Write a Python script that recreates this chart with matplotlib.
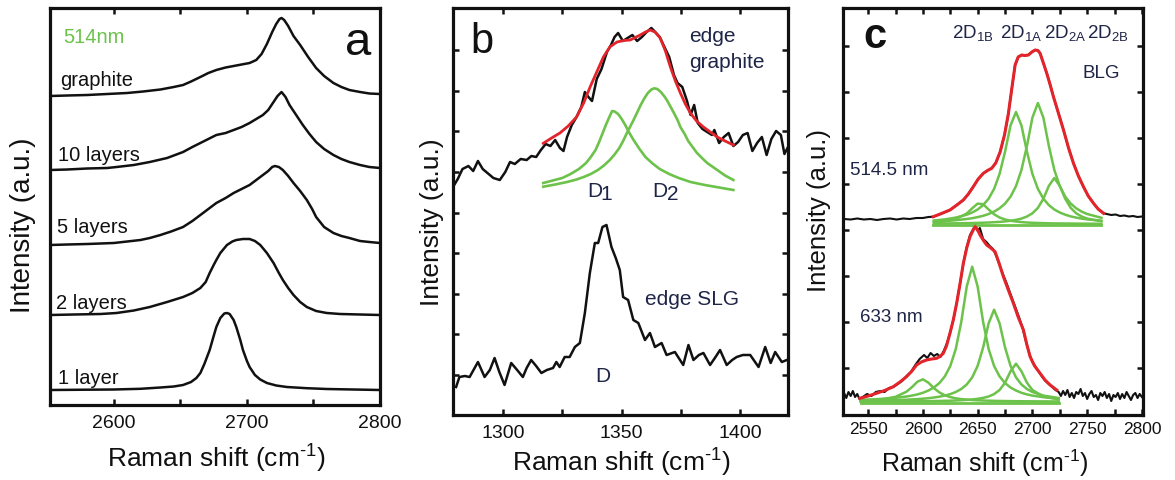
import matplotlib
matplotlib.use('Agg')
import matplotlib.pyplot as plt

plt.rcParams['font.family'] = ['Liberation Sans', 'DejaVu Sans']
plt.rcParams['mathtext.fontset'] = 'custom'
plt.rcParams['mathtext.rm'] = 'Liberation Sans'
plt.rcParams['mathtext.it'] = 'Liberation Sans:italic'
plt.rcParams['mathtext.bf'] = 'Liberation Sans:bold'

# ---------------- panel a: 2D band vs number of layers (514 nm) ----------------
a_graphite_x = [2552, 2565, 2580, 2595, 2610, 2622, 2635, 2645, 2652, 2658, 2665, 2671, 2677, 2684,
                2690, 2696, 2702, 2707, 2711, 2715, 2719, 2722, 2724.5, 2726, 2728, 2731, 2735, 2740,
                2746, 2752, 2758, 2765, 2771, 2777, 2785, 2792, 2800]
a_graphite_y = [0, 0.5, 1, 2, 3, 4.5, 6.5, 9, 11, 14.5, 19, 23, 26, 28.5,
                30, 31.5, 33, 36, 42, 52, 64, 72, 77, 78, 76, 70, 60, 51,
                39, 28, 20, 13, 9, 6, 4, 2.5, 2]
a_10l_x = [2552, 2565, 2580, 2595, 2602, 2615, 2627, 2640, 2652, 2659, 2665, 2671, 2677, 2684, 2690,
           2696, 2702, 2707, 2712, 2716, 2720, 2723, 2726, 2729, 2732, 2737, 2742, 2747, 2752, 2758,
           2765, 2771, 2777, 2785, 2792, 2800]
a_10l_y = [0, 0.5, 1.5, 2, 3, 5, 8, 12, 18, 23, 27, 31, 35, 37, 40,
           43, 47, 51, 55, 60, 68, 74, 78, 73, 65, 55, 45, 36, 28, 21,
           15, 11, 8, 5, 3, 2]
a_5l_x = [2552, 2565, 2580, 2590, 2600, 2610, 2620, 2627, 2635, 2643, 2652, 2659, 2665, 2671, 2677,
          2684, 2690, 2696, 2702, 2707, 2712, 2716, 2719, 2721, 2724, 2727, 2731, 2735, 2740, 2745,
          2749, 2752, 2758, 2765, 2771, 2777, 2785, 2792, 2800]
a_5l_y = [0, 0.5, 1, 1.5, 2, 3.5, 5, 7, 10, 13.5, 18, 24, 30, 36, 42,
          47, 52, 56, 60, 65, 70, 74, 78, 79, 78, 75, 69, 62, 54, 45,
          36, 28, 18, 12, 9, 7, 4, 3, 2]
a_2l_x = [2552, 2570, 2590, 2602, 2615, 2627, 2640, 2652, 2659, 2665, 2669, 2672, 2675, 2677, 2680,
          2685, 2689, 2692, 2697, 2702, 2706, 2710, 2715, 2720, 2724, 2727, 2731, 2735, 2740, 2745,
          2752, 2760, 2770, 2785, 2800]
a_2l_y = [0, 0.5, 1, 2, 4.5, 8, 13, 18, 22, 27, 33, 42, 50, 55, 62,
          70, 73.5, 75, 76, 76, 74, 70, 62, 52, 42, 35, 27, 20, 13, 8,
          4, 2, 1, 0.5, 0]
a_1l_x = [2552, 2580, 2600, 2620, 2635, 2645, 2652, 2658, 2662, 2665, 2668, 2672, 2675, 2677, 2680,
          2683, 2685, 2687, 2690, 2692, 2695, 2697, 2700, 2702, 2706, 2710, 2715, 2722, 2730, 2745,
          2760, 2780, 2800]
a_1l_y = [0, 0.3, 0.5, 1.2, 2.5, 3.5, 5, 8, 12, 17, 26, 40, 54, 63, 72,
          76.5, 77, 76, 70, 63, 50, 40, 29, 23, 15, 10.5, 7, 4.5, 3, 1.8,
          1, 0.5, 0]
a_offsets = [309, 235, 160, 90, 15]
a_labels = ['graphite', '10 layers', '5 layers', '2 layers', '1 layer']

# ---------------- panel b: D band at edges ----------------
b_gr_x = [1279.5, 1281, 1283, 1285.5, 1287.5, 1289.5, 1291.5, 1293.5, 1296, 1298.7, 1301, 1303, 1305,
          1307.5, 1310, 1312, 1314, 1316, 1318, 1320, 1322, 1324, 1325.5, 1327, 1329, 1331, 1333,
          1334.5, 1336, 1337.5, 1339.5, 1341.5, 1343.8, 1345.5, 1347, 1348.5, 1350.5, 1352.5, 1354.5,
          1356.5, 1358.5, 1360.5, 1362.5, 1364.5, 1366, 1368, 1370, 1372, 1373.5, 1375.5, 1377.5,
          1379, 1380.5, 1382, 1384, 1386, 1388, 1389, 1391, 1393, 1395, 1397, 1399, 1401, 1403, 1405,
          1407, 1409, 1411, 1413, 1415, 1417, 1418.5, 1420]
b_gr_y = [2, 8, 18, 21, 16, 26, 18, 14, 9, 7, 15, 25, 23,
          28, 27, 31, 30, 37, 43, 41, 47, 39, 36, 50, 62, 70, 80,
          95, 90, 86, 108, 118, 135, 142, 150, 154, 146, 149, 152,
          146, 150, 155, 159, 154, 150, 140, 130, 112, 104, 100, 86,
          72, 82, 64, 58, 55, 52, 57, 44, 50, 54, 41, 45, 52, 54, 36,
          44, 50, 32, 48, 56, 52, 33, 40]
b_fit_x = [1317, 1320.5, 1324, 1327.5, 1331, 1334, 1336.7, 1339.5, 1342.3, 1345, 1348, 1351, 1353.6,
           1355.7, 1357.8, 1360, 1362, 1364, 1366.2, 1368.4, 1370.5, 1372.6, 1374.7, 1376.8, 1378.9,
           1381.5, 1384.4, 1387.3, 1390.2, 1393.5, 1397]
b_fit_y = [43.7, 49, 54, 61, 70, 84, 100, 115, 130, 140, 145, 146.5, 147,
           149.5, 152, 155, 157, 155, 149, 136, 120, 106, 94, 83, 74,
           66, 60, 55, 50, 46, 42]
b_d1_x = [1317, 1321, 1325, 1328.5, 1332, 1335, 1337, 1339, 1340.5, 1342, 1343.5, 1345, 1346, 1347,
          1348.5, 1350, 1351.5, 1353, 1355, 1357.5, 1360, 1363, 1366, 1370, 1374, 1379, 1385, 1391, 1397]
b_d1_y = [4, 6.5, 9, 13, 18, 24, 30, 37, 45, 54, 63, 71, 76, 75.5,
          73, 68, 62, 55, 47, 38, 30, 23.5, 18, 13, 9, 5, 2, -0.5, -3]
b_d2_x = [1317, 1322, 1327, 1331, 1334, 1337, 1340, 1342.5, 1345, 1347, 1349, 1350.5, 1352, 1353.5,
          1355, 1356.5, 1358, 1359.5, 1361, 1362.5, 1363.7, 1365, 1366.5, 1368, 1369, 1370.5, 1372,
          1373.5, 1374.7, 1376.5, 1378, 1380, 1381.7, 1384, 1386, 1390.2, 1393.5, 1397]
b_d2_y = [0.3, 2.5, 5, 7.5, 10, 13, 17, 21.5, 27, 32.5, 39, 45.5, 53, 60,
          67, 74.5, 82, 88.5, 94, 97.5, 98.7, 98, 95, 90.5, 87, 80.5, 74,
          67, 60, 53, 46, 39.5, 34, 28.5, 24, 17, 11.5, 7]
b_slg_x = [1280.3, 1281.7, 1284, 1286, 1289.5, 1292.3, 1294.5, 1296.5, 1298.5, 1300.7, 1303.5, 1306,
           1308.4, 1310, 1311.9, 1314, 1316.2, 1318.5, 1321.1, 1322.5, 1323.9, 1326, 1328.1, 1330.3,
           1332.4, 1334.5, 1336.6, 1338.7, 1340.1, 1341.9, 1343.6, 1345.7, 1347.5, 1349.2, 1350.6,
           1352.7, 1354.9, 1357, 1359.8, 1361.9, 1364, 1366.8, 1368.9, 1372.4, 1375.9, 1378.1, 1380.2,
           1382.5, 1384.4, 1387.2, 1389.5, 1391.4, 1394.2, 1396.5, 1398.4, 1401, 1404.1, 1407.6,
           1410.4, 1412.7, 1414.6, 1417.4, 1419.5]
b_slg_y = [3, 13, 14, 13, 28, 13, 20, 32, 18, 5, 27, 20,
           13, 22, 30, 24, 17, 20, 22, 28, 23, 33, 33, 43,
           47, 77, 117, 147, 147, 163, 165, 143, 132, 120, 93,
           90, 70, 67, 50, 57, 43, 47, 35, 38, 25, 45, 30,
           35, 37, 25, 33, 40, 25, 30, 33, 35, 35, 23,
           43, 27, 38, 28, 30]
b_gr_offset = 228
b_slg_offset = 25

# ---------------- panel c: BLG 2D band, two lasers ----------------
c_up_fit_x = [2609.5, 2617, 2624.7, 2631, 2636.9, 2641.5, 2646, 2650.5, 2655.2, 2659, 2662.8, 2666.5,
              2670.5, 2674.5, 2678, 2681, 2684.2, 2687, 2690.2, 2693, 2696.3, 2699.5, 2702.5, 2705,
              2707, 2710, 2713.1, 2716, 2719.2, 2724, 2728.4, 2733, 2737.5, 2742, 2746.6, 2751,
              2755.8, 2760, 2765]
c_up_fit_y = [3.3, 6.5, 10, 15, 20, 26, 33.3, 41, 46.7, 49.5, 51.7, 57,
              68, 85, 106, 130, 155, 163, 165, 164.5, 165, 168, 170, 169.5,
              166.7, 157, 146.7, 136, 123.3, 106, 90, 72, 56.7, 44, 33.3, 24,
              16.7, 11, 6.7]
c_up_left_x = [2528, 2534, 2540, 2546, 2552, 2558, 2564, 2570, 2576, 2582, 2588, 2594, 2600, 2605]
c_up_left_y = [1, 0.5, 1.5, 0.5, 1, 0, 1, 1.5, 0.5, 1.5, 1, 2, 2, 3]
c_up_right_x = [2768, 2772, 2776, 2780, 2784, 2788, 2792, 2796, 2800]
c_up_right_y = [6, 5, 5.5, 4, 4.5, 3.5, 4, 3, 3.5]
c_up_grid = [2610, 2620, 2630, 2640, 2645, 2650, 2655, 2660, 2665, 2670, 2675, 2680, 2685, 2690,
             2695, 2700, 2705, 2710, 2715, 2720, 2725, 2730, 2735, 2740, 2745, 2750, 2763]
c_up_1b = [1.6, 2.6, 4.8, 10.5, 15.7, 20.4, 19.8, 14.5, 9.7, 6.5, 4.5, 3.3, 2.5, 1.9,
           1.5, 1.2, 1.0, 0.9, 0.7, 0.6, 0.55, 0.5, 0.45, 0.4, 0.35, 0.3, 0.24]
c_up_1a = [3.5, 4.6, 6.4, 9.3, 11.5, 14.5, 18.9, 25.3, 35.1, 50.1, 72.3, 98.5, 112, 98.5,
           72.3, 50.1, 35.1, 25.3, 18.9, 14.5, 11.5, 9.3, 7.6, 6.4, 5.4, 4.6, 3.3]
c_up_2a = [2.4, 3.0, 3.8, 5.0, 5.8, 6.9, 8.2, 10.0, 12.4, 15.7, 20.4, 27.3, 37.9, 54.1,
           78.1, 106.4, 121, 106.4, 78.1, 54.1, 37.9, 27.3, 20.4, 15.7, 12.4, 10.0, 6.2]
c_up_2b = [0.46, 0.55, 0.68, 0.85, 0.97, 1.1, 1.3, 1.5, 1.8, 2.1, 2.6, 3.2, 4.1, 5.4,
           7.5, 10.7, 16.1, 25.2, 38.1, 46, 38.1, 25.2, 16.1, 10.7, 7.5, 5.4, 2.8]
c_up_offset = 195
c_up_green_base = -4

c_lo_fit_x = [2542.4, 2550, 2557.6, 2565, 2572.9, 2579, 2585, 2590, 2594.2, 2598.5, 2603.3, 2608,
              2612.5, 2615.5, 2618.6, 2621.5, 2624.7, 2627.7, 2630.8, 2634, 2636.9, 2640, 2643,
              2645.5, 2647.6, 2650, 2652.2, 2655, 2658.2, 2662, 2665.9, 2669.5, 2673.5, 2678,
              2682.6, 2687, 2691.8, 2695, 2697.9, 2702, 2707, 2711.5, 2716.2, 2722.2]
c_lo_fit_y = [-3.3, -1, 1.7, 4.5, 8.3, 13, 18.3, 24, 30, 33, 35, 36,
              36.7, 38.5, 41.7, 49, 61.7, 75, 91.7, 112, 131.7, 147, 158.3,
              164, 168.3, 165, 160, 155, 150, 147, 143.3, 132, 118.3, 105,
              91.7, 78, 65, 50, 38.3, 29, 21.7, 15, 10, 5]
c_lo_x = [2528, 2530, 2532, 2534, 2536, 2538, 2540, 2542, 2545, 2549, 2553, 2557, 2561, 2565, 2569,
          2573, 2577, 2581, 2585, 2589, 2593, 2597, 2601, 2604, 2607, 2610, 2613, 2616, 2619, 2622,
          2625, 2628, 2631, 2634, 2637, 2640, 2643, 2646, 2648, 2650, 2652, 2655, 2658, 2661, 2664,
          2667, 2670, 2673, 2676, 2679, 2682, 2685, 2688, 2691, 2694, 2697, 2700, 2703, 2706, 2709,
          2712, 2715, 2718, 2721, 2724, 2726, 2728, 2730, 2732, 2734, 2736, 2738, 2740, 2742, 2744,
          2746, 2748, 2750, 2752, 2754, 2756, 2758, 2760, 2762, 2764, 2766, 2768, 2770, 2772, 2774,
          2776, 2778, 2780, 2782, 2784, 2786, 2788, 2790, 2792, 2794, 2796, 2798, 2800]
c_lo_y = [2, -3, 3, -1, 4, -2, 1, -4, -2, 1, -1, 3, 4, 3, 7,
          8, 11, 14, 19, 23, 30, 36, 40, 37, 42, 39, 41, 38, 44, 52,
          63, 76, 93, 112, 132, 148, 160, 166, 170, 164, 167, 156, 153, 149, 146,
          139, 130, 121, 113, 104, 95, 86, 77, 67, 54, 42, 33, 28, 23, 18,
          14, 11, 8, 5, 3, -1, 4, 0, 5, -2, 2, -3, 3, 1, 6,
          -1, 2, -4, 1, 4, -2, 0, -5, 2, -1, 3, -3, 1, -6, 0,
          -2, 2, -4, 1, -3, 3, -1, -5, 0, 2, -3, 1, -2]
c_lo_grid = [2543, 2555, 2565, 2575, 2585, 2590, 2595, 2600, 2605, 2610, 2615, 2620, 2625, 2630, 2635,
             2640, 2645, 2650, 2655, 2660, 2665, 2670, 2675, 2680, 2685, 2690, 2695, 2700, 2710, 2724]
c_lo_p1 = [1.1, 1.8, 2.8, 4.9, 10.0, 14.6, 20.0, 22.4, 19.0, 13.6, 9.3, 6.4, 4.6, 3.4, 2.6,
           2.1, 1.7, 1.4, 1.2, 1.0, 0.85, 0.74, 0.65, 0.57, 0.51, 0.45, 0.41, 0.37, 0.31, 0.24]
c_lo_p2 = [1.8, 2.4, 3.0, 3.9, 5.2, 6.1, 7.3, 8.9, 11.2, 14.2, 18.6, 25.3, 35.7, 52.7, 79.7,
           115.0, 135, 115.0, 79.7, 52.7, 35.7, 25.3, 18.6, 14.2, 11.2, 8.9, 7.3, 6.1, 4.5, 3.0]
c_lo_p3 = [0.9, 1.1, 1.3, 1.6, 2.0, 2.3, 2.6, 3.0, 3.5, 4.2, 5.0, 6.1, 7.6, 9.7, 12.7,
           17.2, 24.3, 35.9, 54.3, 78.4, 92, 78.4, 54.3, 35.9, 24.3, 17.2, 12.7, 9.7, 6.1, 3.7]
c_lo_p4 = [0.19, 0.22, 0.26, 0.31, 0.38, 0.42, 0.46, 0.52, 0.58, 0.66, 0.76, 0.88, 1.0, 1.2, 1.5,
           1.8, 2.2, 2.9, 3.8, 5.2, 7.6, 11.7, 19, 30.4, 38, 30.4, 19, 11.7, 5.2, 2.3]
c_lo_offset = 20
c_lo_green_base = -6.7

BLACK = '#111111'
RED = '#e3242b'
GREEN = '#6cc24a'
NAVY = '#1f2547'
XLABEL = r'Raman shift (cm$^{\text{-1}}$)'


def shift(vals, off):
    return [v + off for v in vals]


def frame(ax, xlim, ylim, xmajor, xminor, yticks, tsize, tpad):
    ax.set_xlim(*xlim)
    ax.set_ylim(*ylim)
    ax.set_xticks(xmajor)
    ax.set_xticks(xminor, minor=True)
    ax.set_yticks(yticks)
    ax.set_yticklabels([])
    ax.tick_params(which='both', direction='in', top=True, bottom=True,
                   left=len(yticks) > 0, right=len(yticks) > 0,
                   length=4.5, width=1.8, labelsize=tsize, pad=tpad, colors=BLACK)
    for sp in ax.spines.values():
        sp.set_linewidth(2.3)
        sp.set_color(BLACK)


W, H = 1175, 480
fig = plt.figure(figsize=(W / 100, H / 100), dpi=100)


def box(l, t, r, b):
    return [l / W, 1 - b / H, (r - l) / W, (b - t) / H]


# panel a
ax = fig.add_axes(box(50, 8, 380, 405))
traces_a = [(a_graphite_x, a_graphite_y), (a_10l_x, a_10l_y), (a_5l_x, a_5l_y),
            (a_2l_x, a_2l_y), (a_1l_x, a_1l_y)]
for (xs, ys), off in zip(traces_a, a_offsets):
    ax.plot(xs, shift(ys, off), color=BLACK, lw=1.8)
frame(ax, (2552, 2800), (0, 397), [2600, 2700, 2800], [2650, 2750], [], 14, 7)
label_pos_a = [(2559.5, 319), (2558, 244), (2557.4, 172.3), (2556.4, 96), (2558, 20.7)]
for (tx, ty), lab in zip(label_pos_a, a_labels):
    ax.text(tx, ty, lab, fontsize=14.5, color=BLACK, va='baseline', ha='left')
ax.text(2561.9, 361.7, '514nm', fontsize=14.5, color=GREEN, va='baseline', ha='left')
ax.text(2774, 350, 'a', fontsize=34, color=BLACK, va='baseline', ha='left')

# panel b
ax = fig.add_axes(box(453, 8, 788, 415))
ax.plot(b_gr_x, shift(b_gr_y, b_gr_offset), color=BLACK, lw=1.8)
ax.plot(b_slg_x, shift(b_slg_y, b_slg_offset), color=BLACK, lw=1.8)
ax.plot(b_d1_x, shift(b_d1_y, b_gr_offset), color=GREEN, lw=1.9)
ax.plot(b_d2_x, shift(b_d2_y, b_gr_offset), color=GREEN, lw=1.9)
ax.plot(b_fit_x, shift(b_fit_y, b_gr_offset), color=RED, lw=2)
frame(ax, (1279, 1420), (0, 407), [1300, 1350, 1400], [1325, 1375],
      [40 + 40.6 * k for k in range(9)], 14, 7)
ax.text(1286.3, 361.7, 'b', fontsize=30, color=BLACK, va='baseline', ha='left')
ax.text(1378.5, 373, 'edge', fontsize=15, color=NAVY, va='baseline', ha='left')
ax.text(1378.5, 346.7, 'graphite', fontsize=15, color=NAVY, va='baseline', ha='left')
ax.text(1335.4, 218, 'D', fontsize=15, color=NAVY, va='baseline', ha='left')
ax.text(1340.9, 215, '1', fontsize=15, color=NAVY, va='baseline', ha='left')
ax.text(1362.7, 218, 'D', fontsize=15, color=NAVY, va='baseline', ha='left')
ax.text(1369.1, 215, '2', fontsize=15, color=NAVY, va='baseline', ha='left')
ax.text(1359.8, 110, 'edge SLG', fontsize=15, color=NAVY, va='baseline', ha='left')
ax.text(1338.7, 33.3, 'D', fontsize=15, color=NAVY, va='baseline', ha='left')

# panel c
ax = fig.add_axes(box(843, 8, 1143, 415))
ax.plot(c_up_left_x + c_up_fit_x + c_up_right_x,
        shift(c_up_left_y + c_up_fit_y + c_up_right_y, c_up_offset), color=BLACK, lw=1.5)
ax.plot(c_lo_x, shift(c_lo_y, c_lo_offset), color=BLACK, lw=1.5)
ax.plot([c_up_grid[0] - 0.5, c_up_grid[-1]], [c_up_offset + c_up_green_base - 1] * 2,
        color=GREEN, lw=2)
for comp in (c_up_1b, c_up_1a, c_up_2a, c_up_2b):
    ax.plot(c_up_grid, shift(comp, c_up_offset + c_up_green_base), color=GREEN, lw=1.8)
ax.plot([c_lo_grid[0], c_lo_grid[-1]], [c_lo_offset + c_lo_green_base - 1] * 2,
        color=GREEN, lw=2)
for comp in (c_lo_p1, c_lo_p2, c_lo_p3, c_lo_p4):
    ax.plot(c_lo_grid, shift(comp, c_lo_offset + c_lo_green_base), color=GREEN, lw=1.8)
ax.plot(c_up_fit_x, shift(c_up_fit_y, c_up_offset), color=RED, lw=2.2)
ax.plot(c_lo_fit_x, shift(c_lo_fit_y, c_lo_offset), color=RED, lw=2.2)
frame(ax, (2527, 2801), (0, 407), list(range(2550, 2801, 50)), list(range(2575, 2800, 50)),
      [46.7 + 46 * k for k in range(8)], 12.5, 5)
ax.text(2545.2, 366.7, 'c', fontsize=30, fontweight='bold', color=BLACK, va='baseline', ha='left')
peak_names = [('2D', '1B', 2626.6), ('2D', '1A', 2670.2), ('2D', '2A', 2710.3), ('2D', '2B', 2750)]
for main, sub, px in peak_names:
    ax.text(px, 376.7, main + r'$_{\mathregular{' + sub + '}}$', fontsize=13.5, color=NAVY,
            va='baseline', ha='left')
ax.text(2745.5, 336.7, 'BLG', fontsize=13.5, color=NAVY, va='baseline', ha='left')
ax.text(2533.5, 240, '514.5 nm', fontsize=13.5, color=NAVY, va='baseline', ha='left')
ax.text(2542.7, 93.3, '633 nm', fontsize=13.5, color=NAVY, va='baseline', ha='left')

# axis titles
for cx, by, fs in [(216, 468, 19), (621.5, 472, 19), (985, 472, 18)]:
    fig.text(cx / W, 1 - by / H, XLABEL, fontsize=fs, ha='center', va='baseline', color=BLACK)
for cx, cy, fs in [(23, 225, 20), (432, 222, 19), (819, 210, 18.5)]:
    fig.text(cx / W, 1 - cy / H, 'Intensity (a.u.)', fontsize=fs, rotation=90,
             ha='center', va='center', color=BLACK)

fig.savefig('out.png', dpi=100)
